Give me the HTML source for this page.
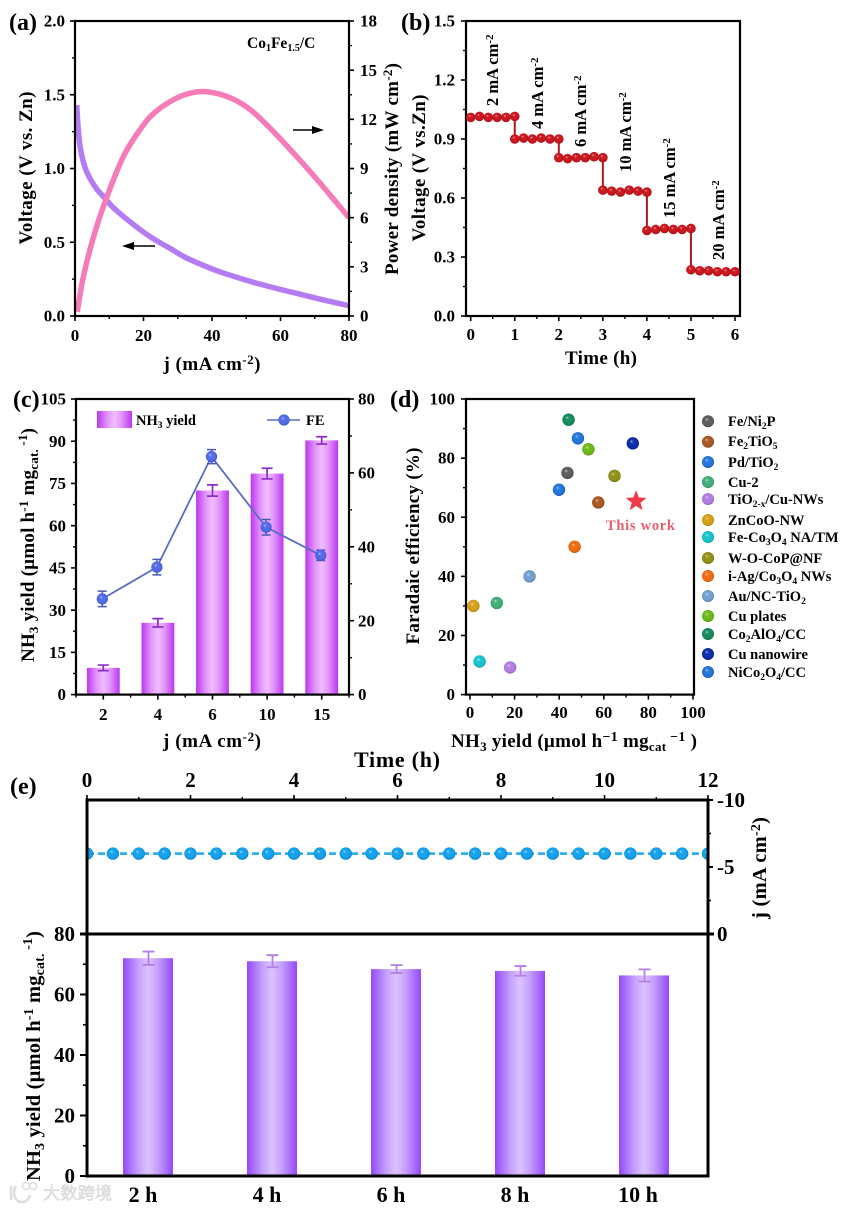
<!DOCTYPE html>
<html lang="en">
<head>
<meta charset="utf-8">
<title>Co1Fe1.5/C battery performance figure</title>
<style>
html,body{margin:0;padding:0;background:#fff;}
svg{display:block;}
text{font-family:"Liberation Serif","Noto Serif CJK SC",serif;font-weight:bold;fill:#000;}
.wm{font-family:"Liberation Sans","Noto Sans CJK SC",sans-serif;font-weight:normal;fill:#e6e6e6;stroke:#d2d2d2;stroke-width:.5;}
</style>
</head>
<body>
<svg id="fig" xmlns="http://www.w3.org/2000/svg" width="843" height="1209" viewBox="0 0 843 1209">
<defs>
<linearGradient id="barC" x1="0" x2="1" y1="0" y2="0"><stop offset="0" stop-color="#bd36f0"/><stop offset=".3" stop-color="#e297fa"/><stop offset=".5" stop-color="#f0bcff"/><stop offset=".7" stop-color="#e297fa"/><stop offset="1" stop-color="#bd36f0"/></linearGradient>
<linearGradient id="barE" x1="0" x2="1" y1="0" y2="0"><stop offset="0" stop-color="#9548fa"/><stop offset=".3" stop-color="#c49efc"/><stop offset=".5" stop-color="#dcc4ff"/><stop offset=".7" stop-color="#c49efc"/><stop offset="1" stop-color="#9548fa"/></linearGradient>
<clipPath id="clipE"><rect x="87" y="800" width="621" height="134"/></clipPath>
</defs>

<g>
<g id="a-marks"></g>
<g id="a-axes"></g>
<text x="9" y="30" font-size="24">(a)</text>
<text x="247" y="48" font-size="15.5">Co<tspan font-size="10" dy="3">1</tspan><tspan dy="-3">Fe</tspan><tspan font-size="10" dy="3">1.5</tspan><tspan dy="-3">/C</tspan></text>
<text transform="translate(32,168) rotate(-90)" text-anchor="middle" font-size="19" textLength="153">Voltage (V vs. Zn)</text>
<text transform="translate(398,169) rotate(-90)" text-anchor="middle" font-size="19" textLength="212">Power density (mW cm<tspan font-size="13" dy="-6">-2</tspan><tspan dy="6">)</tspan></text>
<text x="212" y="370" text-anchor="middle" font-size="19" textLength="97">j (mA cm<tspan font-size="13" dy="-6">-2</tspan><tspan dy="6">)</tspan></text>
<path d="M293 129.2H312V126L324 130 312 134V130.8H293Z" fill="#000"/>
<path d="M155 245.2H134V242L122 246 134 250V246.8H155Z" fill="#000"/>
</g>

<g>
<g id="b-axes"></g>
<g id="b-marks"></g>
<text x="401" y="30" font-size="24">(b)</text>
<text transform="translate(425,168) rotate(-90)" text-anchor="middle" font-size="19" textLength="147">Voltage (V vs.Zn)</text>
<text x="601" y="364" text-anchor="middle" font-size="19" textLength="72">Time (h)</text>
<text transform="translate(498,106) rotate(-90)" font-size="16.5">2 mA cm<tspan font-size="11" dy="-5">-2</tspan></text>
<text transform="translate(543,129) rotate(-90)" font-size="16.5">4 mA cm<tspan font-size="11" dy="-5">-2</tspan></text>
<text transform="translate(586,147) rotate(-90)" font-size="16.5">6 mA cm<tspan font-size="11" dy="-5">-2</tspan></text>
<text transform="translate(631,172) rotate(-90)" font-size="16.5">10 mA cm<tspan font-size="11" dy="-5">-2</tspan></text>
<text transform="translate(675,218) rotate(-90)" font-size="16.5">15 mA cm<tspan font-size="11" dy="-5">-2</tspan></text>
<text transform="translate(724,260) rotate(-90)" font-size="16.5">20 mA cm<tspan font-size="11" dy="-5">-2</tspan></text>
</g>

<g>
<g id="c-marks"></g>
<g id="c-axes"></g>
<text x="13" y="407" font-size="24">(c)</text>
<text transform="translate(34,545) rotate(-90)" text-anchor="middle" font-size="19" textLength="234">NH<tspan font-size="13" dy="4">3</tspan><tspan dy="-4"> yield (µmol h</tspan><tspan font-size="13" dy="-6">-1</tspan><tspan dy="6"> mg</tspan><tspan font-size="13" dy="4">cat.</tspan><tspan font-size="13" dy="-11"> -1</tspan><tspan dy="7">)</tspan></text>
<text x="212" y="747" text-anchor="middle" font-size="19" textLength="98">j (mA cm<tspan font-size="13" dy="-6">-2</tspan><tspan dy="6">)</tspan></text>
<rect x="97" y="411" width="35" height="17" fill="url(#barC)"/>
<text x="136" y="425" font-size="14.5">NH<tspan font-size="9.5" dy="3">3</tspan><tspan dy="-3"> yield</tspan></text>
<line x1="267" x2="300" y1="420" y2="420" stroke="#5a6bc4" stroke-width="1.5"/>
<g id="c-legend-marker"></g>
<text x="306" y="425" font-size="14.5">FE</text>
</g>

<g>
<g id="d-axes"></g>
<g id="d-marks"></g>
<text x="390" y="407" font-size="24">(d)</text>
<text transform="translate(419,546) rotate(-90)" text-anchor="middle" font-size="19" textLength="197">Faradaic efficiency (%)</text>
<text x="574" y="747" text-anchor="middle" font-size="19" textLength="246">NH<tspan font-size="13" dy="4">3</tspan><tspan dy="-4"> yield (µmol h</tspan><tspan font-size="14" dy="-6">−1</tspan><tspan dy="6"> mg</tspan><tspan font-size="13" dy="4">cat</tspan><tspan font-size="14" dy="-10"> −1</tspan><tspan dy="6"> )</tspan></text>
<text x="606" y="530" font-size="14.5" textLength="69" style="fill:#e4606e">This work</text>
<g font-size="14.5">
<text x="728" y="426">Fe/Ni<tspan font-size="9.5" dy="3">2</tspan><tspan dy="-3">P</tspan></text>
<text x="728" y="446">Fe<tspan font-size="9.5" dy="3">2</tspan><tspan dy="-3">TiO</tspan><tspan font-size="9.5" dy="3">5</tspan></text>
<text x="728" y="467">Pd/TiO<tspan font-size="9.5" dy="3">2</tspan></text>
<text x="728" y="487">Cu-2</text>
<text x="728" y="504">TiO<tspan font-size="9.5" dy="3">2-x</tspan><tspan dy="-3">/Cu-NWs</tspan></text>
<text x="728" y="525">ZnCoO-NW</text>
<text x="728" y="542">Fe-Co<tspan font-size="9.5" dy="3">3</tspan><tspan dy="-3">O</tspan><tspan font-size="9.5" dy="3">4</tspan><tspan dy="-3"> NA/TM</tspan></text>
<text x="728" y="563">W-O-CoP@NF</text>
<text x="728" y="581">i-Ag/Co<tspan font-size="9.5" dy="3">3</tspan><tspan dy="-3">O</tspan><tspan font-size="9.5" dy="3">4</tspan><tspan dy="-3"> NWs</tspan></text>
<text x="728" y="601">Au/NC-TiO<tspan font-size="9.5" dy="3">2</tspan></text>
<text x="728" y="621">Cu plates</text>
<text x="728" y="639">Co<tspan font-size="9.5" dy="3">2</tspan><tspan dy="-3">AlO</tspan><tspan font-size="9.5" dy="3">4</tspan><tspan dy="-3">/CC</tspan></text>
<text x="728" y="659">Cu nanowire</text>
<text x="728" y="677">NiCo<tspan font-size="9.5" dy="3">2</tspan><tspan dy="-3">O</tspan><tspan font-size="9.5" dy="3">4</tspan><tspan dy="-3">/CC</tspan></text>
</g>
</g>

<g>
<g id="e-marks"></g>
<g id="e-axes"></g>
<text x="10" y="794" font-size="24">(e)</text>
<text x="397" y="767" text-anchor="middle" font-size="22" textLength="86">Time (h)</text>
<text transform="translate(766,868) rotate(-90)" text-anchor="middle" font-size="20.5" textLength="102">j (mA cm<tspan font-size="14" dy="-6">-2</tspan><tspan dy="6">)</tspan></text>
<text transform="translate(40,1056) rotate(-90)" text-anchor="middle" font-size="20.5" textLength="250">NH<tspan font-size="14" dy="4">3</tspan><tspan dy="-4"> yield (µmol h</tspan><tspan font-size="14" dy="-7">-1</tspan><tspan dy="7"> mg</tspan><tspan font-size="14" dy="4">cat.</tspan><tspan font-size="14" dy="-12"> -1</tspan><tspan dy="8">)</tspan></text>
</g>

<g>
<path d="M11 1186V1200M16 1186C13 1192 13 1199 20 1202 26 1203 29 1199 30 1195" fill="none" stroke="#dedede" stroke-width="2.6"/>
<circle cx="26" cy="1186" r="3.5" fill="none" stroke="#dedede" stroke-width="1.6"/>
<circle cx="33" cy="1186" r="3.5" fill="none" stroke="#dedede" stroke-width="1.6"/>
<text class="wm" x="43" y="1199" font-size="17.3">大数跨境</text>
</g>
</svg>

<script>
/* ---------- panel (a) data ---------- */
const aVoltageJ = [0.5, 0.97, 1.66, 3.2, 5.84, 8.27, 11.2, 16, 21.9, 27.7, 32, 37, 42, 48, 54, 60, 66, 73, 80];
const aVoltageV = [1.43, 1.26, 1.125, 0.99, 0.877, 0.81, 0.735, 0.64, 0.538, 0.459, 0.4, 0.348, 0.302, 0.257, 0.216, 0.18, 0.146, 0.106, 0.07];
const aPowerJ = [0.68, 2.24, 4.87, 8.27, 14.1, 19.95, 23.5, 27.7, 32, 37, 42, 47, 52, 57, 62, 67, 72, 76, 80];
const aPowerP = [0.26, 2.2, 4.43, 6.67, 9.72, 11.65, 12.45, 13.07, 13.5, 13.7, 13.55, 13.15, 12.45, 11.45, 10.35, 9.2, 8.0, 7.0, 6.0];
const aXTicks = ['0', '20', '40', '60', '80'];
const aYTicks = ['0.0', '0.5', '1.0', '1.5', '2.0'];
const aY2Ticks = ['0', '3', '6', '9', '12', '15', '18'];

/* ---------- panel (b) data ---------- */
const bStepTimes = [0, 0.2, 0.4, 0.6, 0.8, 1];
const bStep1 = [1.01, 1.015, 1.01, 1.01, 1.01, 1.015];
const bStep2 = [0.9, 0.905, 0.9, 0.905, 0.9, 0.9];
const bStep3 = [0.805, 0.8, 0.805, 0.805, 0.81, 0.805];
const bStep4 = [0.64, 0.635, 0.63, 0.64, 0.635, 0.63];
const bStep5 = [0.435, 0.44, 0.445, 0.44, 0.44, 0.445];
const bStep6 = [0.235, 0.23, 0.23, 0.225, 0.225, 0.225];
const bXTicks = ['0', '1', '2', '3', '4', '5', '6'];
const bYTicks = ['0.0', '0.3', '0.6', '0.9', '1.2', '1.5'];

/* ---------- panel (c) data ---------- */
const cCategories = ['2', '4', '6', '10', '15'];
const cYield = [9.5, 25.5, 72.5, 78.5, 90.3];
const cYieldErr = [1, 1.5, 2, 1.9, 1.3];
const cFE = [25.9, 34.5, 64.4, 45.3, 37.7];
const cFEErr = [2.1, 2.1, 1.9, 2.1, 1.4];
const cYTicks = ['0', '15', '30', '45', '60', '75', '90', '105'];
const cY2Ticks = ['0', '20', '40', '60', '80'];

/* ---------- panel (d) data ---------- */
const dYield = [43.7, 57.5, 39.9, 12, 18, 1.5, 4.3, 64.8, 46.9, 26.7, 53.1, 44.2, 73, 48.4];
const dFE = [75, 65, 69.3, 31, 9.2, 30, 11.2, 74, 50, 40, 83, 93, 85, 86.7];
const dColors = ['#5c5c5c', '#a8561e', '#1f74dc', '#3fae78', '#b27be0', '#d69e14', '#14c4cc', '#8f8f14', '#f06a10', '#6f9fd0', '#6cb818', '#138a5e', '#0a2aa8', '#2274d8'];
const dThisWorkYield = 74.5;
const dThisWorkFE = 65.4;
const dTicks = ['0', '20', '40', '60', '80', '100'];

/* ---------- panel (e) data ---------- */
const eTimes = [0, 0.5, 1, 1.5, 2, 2.5, 3, 3.5, 4, 4.5, 5, 5.5, 6, 6.5, 7, 7.5, 8, 8.5, 9, 9.5, 10, 10.5, 11, 11.5, 12];
const eCurrent = [-6, -6, -6, -6, -6, -6, -6, -6, -6, -6, -6, -6, -6, -6, -6, -6, -6, -6, -6, -6, -6, -6, -6, -6, -6];
const eCategories = ['2 h', '4 h', '6 h', '8 h', '10 h'];
const eYield = [72, 71, 68.4, 67.8, 66.3];
const eYieldErr = [2.2, 2, 1.3, 1.6, 2];
const eTimeTicks = ['0', '2', '4', '6', '8', '10', '12'];
const eJTicks = ['-10', '-5', '0'];
const eYTicks = ['0', '20', '40', '60', '80'];

/* ---------- axis functions ---------- */
const aX = v => 75 + v / 80 * 274;
const aY = v => 316 - v / 2 * 295;
const aY2 = v => 316 - v / 18 * 295;
const bX = v => 470.7 + v * 44.05;
const bY = v => 316 - v / 1.5 * 295;
const cX = i => 103.3 + i * 54.6;
const cY = v => 694.6 - v / 105 * 295.6;
const cY2 = v => 694.6 - v / 80 * 295.6;
const dX = v => 470 + v * 2.23;
const dY = v => 694.6 - v * 2.956;
const eX = v => 87 + v / 12 * 621;
const eJ = v => 934 + v * 13.4;
const eBarX = i => 148 + i * 124;
const eY = v => 1176 - v / 80 * 242;

/* ---------- helpers ---------- */
const NS = 'http://www.w3.org/2000/svg';
function mk(parent, tag, attrs, name) {
  const el = document.createElementNS(NS, tag);
  for (const k in attrs) el.setAttribute(k, attrs[k]);
  
  
  parent.appendChild(el);
  return el;
}
function txt(parent, x, y, s, anchor, size, name) {
  const el = mk(parent, 'text', {x: x, y: y, 'text-anchor': anchor, 'font-size': size}, name);
  el.textContent = s;
  return el;
}
function tickY(g, x, dir, y, len, w, name) {
  mk(g, 'line', {x1: x, x2: x + dir * len, y1: y, y2: y, stroke: '#000', 'stroke-width': w}, name);
}
function tickX(g, y, dir, x, len, w, name) {
  mk(g, 'line', {x1: x, x2: x, y1: y, y2: y + dir * len, stroke: '#000', 'stroke-width': w}, name);
}
function frame(g, x, y, w, h, sw, name) {
  mk(g, 'rect', {x: x, y: y, width: w, height: h, fill: 'none', stroke: '#000', 'stroke-width': sw}, name);
}
function yAxis(g, labels, scale, x, dir, labelX, anchor, size, name) {
  const vals = labels.map(Number);
  vals.forEach((v, i) => {
    tickY(g, x, dir, scale(v), 5, 1.6, name + '-tick');
    txt(g, labelX, scale(v) + size * 0.33, labels[i], anchor, size, name + '-label');
    if (i < vals.length - 1) tickY(g, x, dir, scale((v + vals[i + 1]) / 2), 3, 1.4, name + '-minor-tick');
  });
}
function xAxis(g, labels, scale, y, dir, labelY, size, name) {
  const vals = labels.map(Number);
  vals.forEach((v, i) => {
    tickX(g, y, dir, scale(v), 5, 1.6, name + '-tick');
    txt(g, scale(v), labelY, labels[i], 'middle', size, name + '-label');
    if (i < vals.length - 1) tickX(g, y, dir, scale((v + vals[i + 1]) / 2), 3, 1.4, name + '-minor-tick');
  });
}
function smoothPath(px) {
  let d = 'M' + px[0][0] + ' ' + px[0][1];
  for (let i = 0; i < px.length - 1; i++) {
    const p0 = px[Math.max(i - 1, 0)], p1 = px[i], p2 = px[i + 1], p3 = px[Math.min(i + 2, px.length - 1)];
    d += 'C' + (p1[0] + (p2[0] - p0[0]) / 6) + ' ' + (p1[1] + (p2[1] - p0[1]) / 6) + ' ' +
         (p2[0] - (p3[0] - p1[0]) / 6) + ' ' + (p2[1] - (p3[1] - p1[1]) / 6) + ' ' + p2[0] + ' ' + p2[1];
  }
  return d;
}
let gradId = 0;
function shade(hex, f) {
  const n = parseInt(hex.slice(1), 16);
  const c = [n >> 16 & 255, n >> 8 & 255, n & 255].map(v => Math.round(f < 1 ? v * f : v + (255 - v) * (f - 1)));
  return 'rgb(' + c.join(',') + ')';
}
function ballFill(hex) {
  const defs = document.querySelector('#fig defs');
  const id = 'ball' + (gradId++);
  const g = mk(defs, 'radialGradient', {id: id, cx: '.5', cy: '.5', r: '.55', fx: '.38', fy: '.32'}, 'marker-gradient');
  mk(g, 'stop', {offset: '0', 'stop-color': shade(hex, 1.65)}, 'gradient-stop');
  mk(g, 'stop', {offset: '.25', 'stop-color': shade(hex, 1.05)}, 'gradient-stop');
  mk(g, 'stop', {offset: '.75', 'stop-color': hex}, 'gradient-stop');
  mk(g, 'stop', {offset: '1', 'stop-color': shade(hex, 0.7)}, 'gradient-stop');
  return 'url(#' + id + ')';
}
function errBar(g, x, yTop, yBot, cap, color, w, name) {
  mk(g, 'path', {d: 'M' + (x - cap) + ' ' + yTop + 'H' + (x + cap) + 'M' + x + ' ' + yTop + 'V' + yBot + 'M' + (x - cap) + ' ' + yBot + 'H' + (x + cap),
    fill: 'none', stroke: color, 'stroke-width': w}, name);
}
const $ = id => document.getElementById(id);

/* ---------- panel (a) ---------- */
mk($('a-marks'), 'path', {d: smoothPath(aVoltageJ.map((j, i) => [aX(j), aY(aVoltageV[i])])), fill: 'none', stroke: '#b57bf2', 'stroke-width': 5.5}, 'voltage-curve');
mk($('a-marks'), 'path', {d: smoothPath(aPowerJ.map((j, i) => [aX(j), aY2(aPowerP[i])])), fill: 'none', stroke: '#f57cb9', 'stroke-width': 5.5}, 'power-density-curve');
frame($('a-axes'), 75, 21, 274, 295, 2.2, 'panel-a-frame');
xAxis($('a-axes'), aXTicks, aX, 316, 1, 341, 17, 'a-x-axis');
yAxis($('a-axes'), aYTicks, aY, 75, -1, 65, 'end', 17, 'a-y-axis');
yAxis($('a-axes'), aY2Ticks, aY2, 349, 1, 360, 'start', 17, 'a-right-y-axis');

/* ---------- panel (b) ---------- */
frame($('b-axes'), 466, 21, 274, 295, 2.2, 'panel-b-frame');
xAxis($('b-axes'), bXTicks, bX, 316, 1, 340, 17, 'b-x-axis');
yAxis($('b-axes'), bYTicks, bY, 466, -1, 455, 'end', 17, 'b-y-axis');
const bSteps = [bStep1, bStep2, bStep3, bStep4, bStep5, bStep6];
const bPts = [];
bSteps.forEach((s, k) => s.forEach((v, i) => bPts.push([bX(k + bStepTimes[i]), bY(v)])));
mk($('b-marks'), 'polyline', {points: bPts.map(p => p.join(',')).join(' '), fill: 'none', stroke: '#a81a20', 'stroke-width': 2}, 'voltage-step-line');
const bFill = ballFill('#c8141c');
bPts.forEach(p => mk($('b-marks'), 'circle', {cx: p[0], cy: p[1], r: 4.8, fill: bFill}, 'voltage-point'));

/* ---------- panel (c) ---------- */
cYield.forEach((v, i) => {
  mk($('c-marks'), 'rect', {x: cX(i) - 16.4, y: cY(v), width: 32.8, height: 694.6 - cY(v), fill: 'url(#barC)'}, 'bar-' + cCategories[i]);
  errBar($('c-marks'), cX(i), cY(v + cYieldErr[i]), cY(v - cYieldErr[i]), 5.5, '#8c2cc8', 1.7, 'yield-error-' + cCategories[i]);
});
const cPts = cFE.map((v, i) => [cX(i) - 1, cY2(v)]);
mk($('c-marks'), 'polyline', {points: cPts.map(p => p.join(',')).join(' '), fill: 'none', stroke: '#5a6bc4', 'stroke-width': 1.8}, 'fe-line');
const cFill = ballFill('#4f68e8');
cFE.forEach((v, i) => {
  errBar($('c-marks'), cPts[i][0], cY2(v + cFEErr[i]), cY2(v - cFEErr[i]), 4.5, '#4a58b8', 1.5, 'fe-error-' + cCategories[i]);
  mk($('c-marks'), 'circle', {cx: cPts[i][0], cy: cPts[i][1], r: 5.6, fill: cFill}, 'fe-point-' + cCategories[i]);
});
mk($('c-legend-marker'), 'circle', {cx: 284, cy: 420, r: 5.6, fill: cFill}, 'legend-fe-marker');
frame($('c-axes'), 76, 399, 273, 295.6, 2.2, 'panel-c-frame');
cCategories.forEach((c, i) => {
  tickX($('c-axes'), 694.6, 1, cX(i), 5, 1.6, 'c-x-tick');
  tickX($('c-axes'), 694.6, 1, cX(i) - 27.3, 3, 1.4, 'c-x-minor-tick');
  txt($('c-axes'), cX(i), 720, c, 'middle', 17, 'c-x-label');
});
tickX($('c-axes'), 694.6, 1, cX(4) + 27.3, 3, 1.4, 'c-x-minor-tick');
yAxis($('c-axes'), cYTicks, cY, 76, -1, 66, 'end', 17, 'c-y-axis');
yAxis($('c-axes'), cY2Ticks, cY2, 349, 1, 358, 'start', 17, 'c-right-y-axis');

/* ---------- panel (d) ---------- */
frame($('d-axes'), 466, 399, 228, 295.6, 2.2, 'panel-d-frame');
xAxis($('d-axes'), dTicks, dX, 694.6, 1, 718, 17, 'd-x-axis');
yAxis($('d-axes'), dTicks, dY, 466, -1, 455, 'end', 17, 'd-y-axis');
const dLegendY = [421.3, 441.7, 462, 482, 499, 520, 537, 558, 576, 596, 616, 634, 654, 672];
dYield.forEach((v, i) => {
  const f = ballFill(dColors[i]);
  mk($('d-marks'), 'circle', {cx: dX(v), cy: dY(dFE[i]), r: 6.2, fill: f}, 'catalyst-point');
  mk($('d-marks'), 'circle', {cx: 708, cy: dLegendY[i], r: 6, fill: f}, 'catalyst-legend-marker');
});
const starPts = [];
for (let i = 0; i < 10; i++) {
  const r = i % 2 ? 4.6 : 11, a = -Math.PI / 2 + i * Math.PI / 5;
  starPts.push((dX(dThisWorkYield) + r * Math.cos(a)) + ',' + (dY(dThisWorkFE) + r * Math.sin(a)));
}
mk($('d-marks'), 'polygon', {points: starPts.join(' '), fill: '#ee3a48'}, 'this-work-star');

/* ---------- panel (e) ---------- */
const eClip = mk($('e-marks'), 'g', {'clip-path': 'url(#clipE)'}, 'current-series');
mk(eClip, 'polyline', {points: eTimes.map((t, i) => eX(t) + ',' + eJ(eCurrent[i])).join(' '), fill: 'none', stroke: '#2fb0e6', 'stroke-width': 2.8, 'stroke-dasharray': '7 4'}, 'current-line');
const eFill = ballFill('#10a0ee');
eTimes.forEach((t, i) => mk(eClip, 'circle', {cx: eX(t), cy: eJ(eCurrent[i]), r: 6.2, fill: eFill}, 'current-point'));
eYield.forEach((v, i) => {
  mk($('e-marks'), 'rect', {x: eBarX(i) - 25, y: eY(v), width: 50, height: 1176 - eY(v), fill: 'url(#barE)'}, 'bar-' + eCategories[i].replace(' ', ''));
  errBar($('e-marks'), eBarX(i) + 0.5, eY(v + eYieldErr[i]), eY(v - eYieldErr[i]), 6, '#b27fe6', 1.8, 'yield-error-' + eCategories[i].replace(' ', ''));
  txt($('e-axes'), eBarX(i) - (i === 4 ? 6 : 5), 1202, eCategories[i], 'middle', 22, 'e-x-label');
});
const ea = $('e-axes');
mk(ea, 'rect', {x: 87, y: 800, width: 621, height: 376, fill: 'none', stroke: '#000', 'stroke-width': 3}, 'panel-e-frame');
mk(ea, 'line', {x1: 80, x2: 714, y1: 934, y2: 934, stroke: '#000', 'stroke-width': 3}, 'panel-divider');
xAxis(ea, eTimeTicks, eX, 800, -1, 787, 21, 'e-top-axis');
eJTicks.forEach((s, i) => {
  const v = Number(s);
  tickY(ea, 708, 1, eJ(v), 5, 2, 'e-j-tick');
  txt(ea, 717, eJ(v) + 7, s, 'start', 21, 'e-j-label');
  if (i < eJTicks.length - 1) tickY(ea, 708, 1, eJ((v + Number(eJTicks[i + 1])) / 2), 3, 1.6, 'e-j-minor-tick');
});
eYTicks.forEach((s, i) => {
  const v = Number(s);
  tickY(ea, 87, -1, eY(v), 7, 2, 'e-y-tick');
  txt(ea, 75, eY(v) + 7, s, 'end', 21, 'e-y-label');
  if (i < eYTicks.length - 1) tickY(ea, 87, -1, eY(v + 10), 4, 1.6, 'e-y-minor-tick');
});
</script>
</body>
</html>
